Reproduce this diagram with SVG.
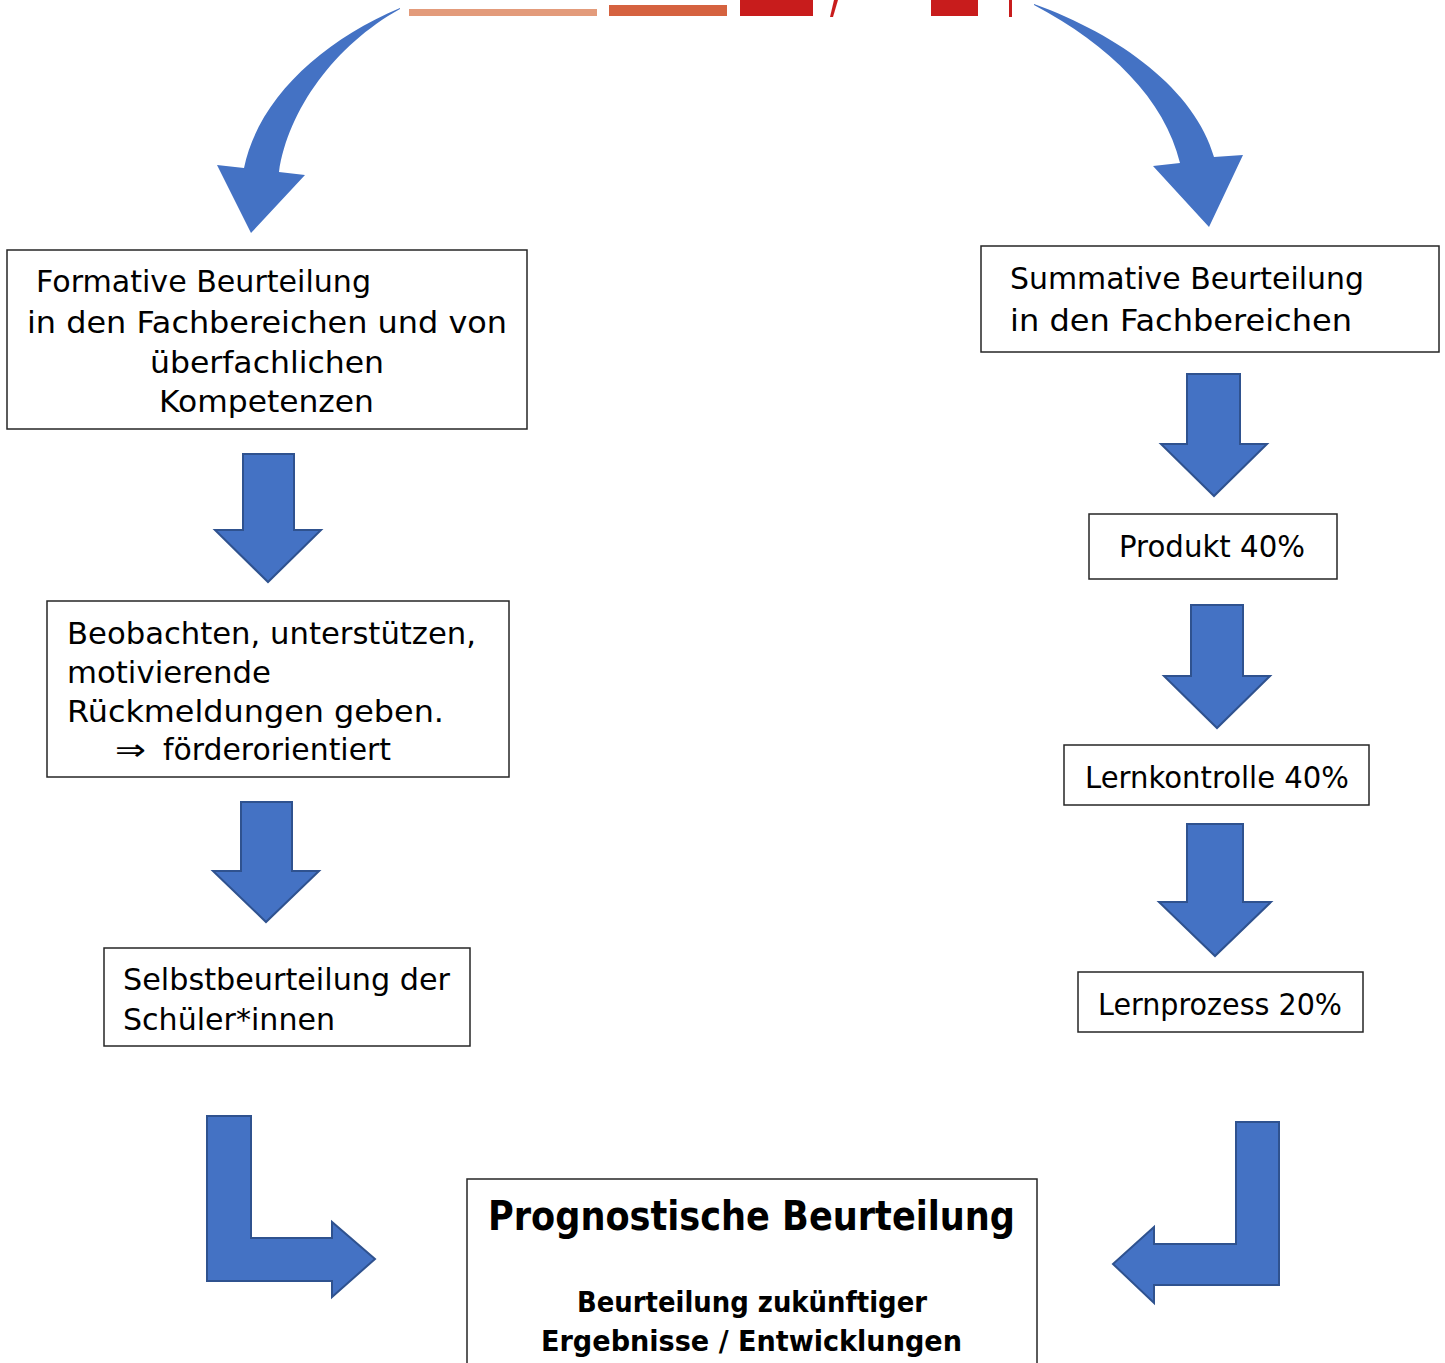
<svg xmlns="http://www.w3.org/2000/svg" width="1445" height="1363" viewBox="0 0 1445 1363">
<style>
.box{fill:#fff;stroke:#262626;stroke-width:1.5}
.t{font-family:"DejaVu Sans","Liberation Sans",sans-serif;font-size:30px;fill:#000}
.tb{font-family:"DejaVu Sans","Liberation Sans",sans-serif;font-weight:bold;fill:#000}
.blk{fill:#4472C4;stroke:#2F528F;stroke-width:2;stroke-linejoin:miter}
.curve{fill:#4472C4}
</style>
<rect width="1445" height="1363" fill="#fff"/>
<g id="header">
<rect x="409" y="9" width="188" height="7" fill="#E39B7B"/>
<rect x="609" y="5" width="118" height="11" fill="#D5623F"/>
<rect x="740" y="0" width="73" height="16" fill="#C81C1C"/>
<polygon points="830,17 833,17 838,0 834,0" fill="#C81C1C"/>
<rect x="931" y="0" width="47" height="16" fill="#C81C1C"/>
<rect x="1009" y="0" width="3" height="17" fill="#C81C1C"/>
</g>
<g id="connectors">
<path class="curve" d="M400,8 C320,42 258,100 244,168 L217,165 L251,233 L305,175 L279,172 C288,110 335,45 400,9 Z"/>
<path class="curve" d="M1034,4 C1120,35 1195,90 1214,157 L1243,155 L1209,227 L1153,166 L1180,163 C1165,100 1110,45 1034,5 Z"/>
<path class="blk" d="M243,454 L294,454 L294,530 L321,530 L268,582 L215,530 L243,530 Z"/>
<path class="blk" d="M241,802 L292,802 L292,871 L319,871 L266,922 L213,871 L241,871 Z"/>
<path class="blk" d="M1187,374 L1240,374 L1240,444 L1267,444 L1214,496 L1161,444 L1187,444 Z"/>
<path class="blk" d="M1191,605 L1243,605 L1243,676 L1270,676 L1217,728 L1164,676 L1191,676 Z"/>
<path class="blk" d="M1187,824 L1243,824 L1243,902 L1271,902 L1215,956 L1159,902 L1187,902 Z"/>
<path class="blk" d="M207,1116 L251,1116 L251,1238 L332,1238 L332,1222 L375,1259 L332,1297 L332,1281 L207,1281 Z"/>
<path class="blk" d="M1236,1122 L1279,1122 L1279,1285 L1154,1285 L1154,1303 L1113,1264 L1154,1227 L1154,1244 L1236,1244 Z"/>
</g>
<g id="formative">
<rect class="box" x="7" y="250" width="520" height="179"/>
<text class="t" x="36" y="292" textLength="335" lengthAdjust="spacingAndGlyphs">Formative Beurteilung</text>
<text class="t" x="27" y="333" textLength="480" lengthAdjust="spacingAndGlyphs">in den Fachbereichen und von</text>
<text class="t" x="150" y="373" textLength="234" lengthAdjust="spacingAndGlyphs">überfachlichen</text>
<text class="t" x="159" y="412" textLength="215" lengthAdjust="spacingAndGlyphs">Kompetenzen</text>
</g>
<g id="summative">
<rect class="box" x="981" y="246" width="458" height="106"/>
<text class="t" x="1010" y="289" textLength="354" lengthAdjust="spacingAndGlyphs">Summative Beurteilung</text>
<text class="t" x="1010" y="331" textLength="342" lengthAdjust="spacingAndGlyphs">in den Fachbereichen</text>
</g>
<g id="produkt">
<rect class="box" x="1089" y="514" width="248" height="65"/>
<text class="t" x="1119" y="557" textLength="186" lengthAdjust="spacingAndGlyphs">Produkt 40%</text>
</g>
<g id="beobachten">
<rect class="box" x="47" y="601" width="462" height="176"/>
<text class="t" x="67" y="644" textLength="409" lengthAdjust="spacingAndGlyphs">Beobachten, unterstützen,</text>
<text class="t" x="67" y="683" textLength="204" lengthAdjust="spacingAndGlyphs">motivierende</text>
<text class="t" x="67" y="722" textLength="377" lengthAdjust="spacingAndGlyphs">Rückmeldungen geben.</text>
<text class="t" x="115" y="760" textLength="31" lengthAdjust="spacingAndGlyphs">⇒</text>
<text class="t" x="163" y="760" textLength="228" lengthAdjust="spacingAndGlyphs">förderorientiert</text>
</g>
<g id="lernkontrolle">
<rect class="box" x="1064" y="745" width="305" height="60"/>
<text class="t" x="1085" y="788" textLength="264" lengthAdjust="spacingAndGlyphs">Lernkontrolle 40%</text>
</g>
<g id="selbst">
<rect class="box" x="104" y="948" width="366" height="98"/>
<text class="t" x="123" y="990" textLength="327" lengthAdjust="spacingAndGlyphs">Selbstbeurteilung der</text>
<text class="t" x="123" y="1030" textLength="212" lengthAdjust="spacingAndGlyphs">Schüler*innen</text>
</g>
<g id="lernprozess">
<rect class="box" x="1078" y="972" width="285" height="60"/>
<text class="t" x="1098" y="1015" textLength="244" lengthAdjust="spacingAndGlyphs">Lernprozess 20%</text>
</g>
<g id="prognostisch">
<rect class="box" x="467" y="1179" width="570" height="200"/>
<text class="tb" x="488" y="1230" font-size="40" textLength="527" lengthAdjust="spacingAndGlyphs">Prognostische Beurteilung</text>
<text class="tb" x="577" y="1312" font-size="29" textLength="350" lengthAdjust="spacingAndGlyphs">Beurteilung zukünftiger</text>
<text class="tb" x="541" y="1351" font-size="29" textLength="421" lengthAdjust="spacingAndGlyphs">Ergebnisse / Entwicklungen</text>
</g>
</svg>
